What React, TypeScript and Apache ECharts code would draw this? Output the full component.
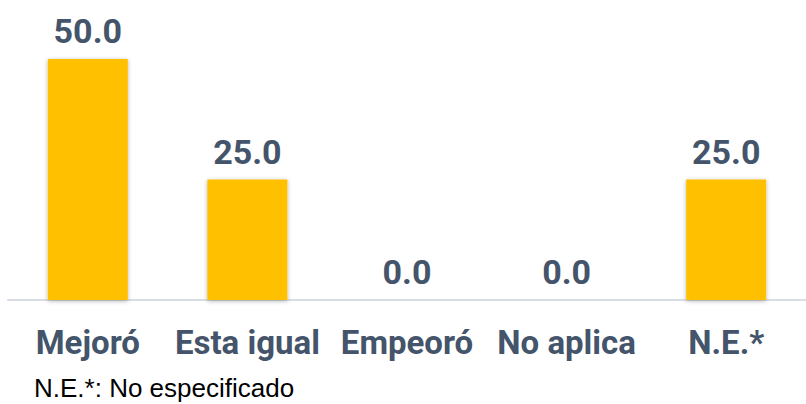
import React, { useEffect, useRef } from "react";
import * as echarts from "echarts";

const categories = ["Mejoró", "Esta igual", "Empeoró", "No aplica", "N.E.*"];
const values = [50.0, 25.0, 0.0, 0.0, 25.0];
const footnote = "N.E.*: No especificado";

export default function App() {
  const ref = useRef<HTMLDivElement>(null);
  useEffect(() => {
    if (!ref.current) return;
    const chart = echarts.init(ref.current, undefined, { renderer: "svg" });
    chart.setOption({
      animation: false,
      backgroundColor: "#ffffff",
      grid: { left: 8, right: -2, top: 59, bottom: 104, containLabel: false },
      xAxis: {
        type: "category",
        data: categories,
        axisLine: { show: true, lineStyle: { color: "#D9DEE4", width: 2 } },
        axisTick: { show: false },
        axisLabel: {
          interval: 0,
          color: "#44546A",
          fontFamily: "Roboto",
          fontWeight: "bold",
          fontSize: 33,
          margin: 26,
        },
      },
      yAxis: {
        type: "value",
        min: 0,
        max: 50,
        show: false,
        splitLine: { show: false },
      },
      series: [
        {
          type: "bar",
          data: values,
          barWidth: 80,
          itemStyle: {
            color: "#FFC000",
            shadowBlur: 4,
            shadowColor: "rgba(0,0,0,0.3)",
            shadowOffsetX: 0,
            shadowOffsetY: 1,
          },
          label: {
            show: true,
            position: "top",
            distance: 11,
            color: "#44546A",
            fontFamily: "Roboto",
            fontWeight: "bold",
            fontSize: 34,
            formatter: (p: any) => Number(p.value).toFixed(1),
          },
        },
      ],
      graphic: [
        {
          type: "text",
          left: 34,
          top: 375,
          style: {
            text: footnote,
            fontFamily: "Liberation Sans, Arial, sans-serif",
            fontSize: 26,
            fill: "#000000",
          },
        },
      ],
    });
    return () => chart.dispose();
  }, []);
  return (
    <div
      ref={ref}
      style={{ position: "fixed", left: 0, top: 0, width: 806, height: 404 }}
    />
  );
}
